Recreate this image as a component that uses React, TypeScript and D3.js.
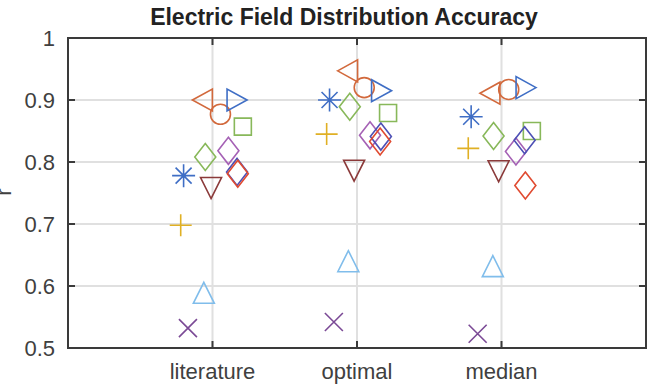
import React from "react";
import * as d3 from "d3";

// categories along x (at positions 1, 2, 3 on a 0..4 axis)
const categories = ["literature", "optimal", "median"];
const yTicks = [0.5, 0.6, 0.7, 0.8, 0.9, 1];

// one entry per scattered series: marker, colour, values per category, x jitter
const seriesNames = [
  "s1", "s2", "s3", "s4", "s5", "s6", "s7",
  "s8", "s9", "s10", "s11", "s12", "s13",
];
const seriesSymbols = [
  "star", "tri-left", "circle", "tri-right", "square", "diamond", "diamond",
  "diamond", "diamond", "tri-down", "plus", "tri-up", "cross",
];
const seriesColors = [
  "#3f6ec5", "#d2693c", "#d2693c", "#3f6ec5", "#88b85a", "#88b85a", "#a561b5",
  "#4d50b5", "#e04a30", "#8b3a3a", "#e0b024", "#80bdeb", "#7b4a96",
];
const seriesValues = [
  [0.778, 0.9, 0.873],
  [0.9, 0.947, 0.911],
  [0.877, 0.92, 0.917],
  [0.9, 0.915, 0.92],
  [0.857, 0.879, 0.85],
  [0.808, 0.889, 0.842],
  [0.818, 0.843, 0.817],
  [0.784, 0.841, 0.835],
  [0.781, 0.833, 0.762],
  [0.758, 0.786, 0.785],
  [0.698, 0.845, 0.822],
  [0.589, 0.64, 0.632],
  [0.532, 0.542, 0.523],
];
const seriesJitter = [
  [-0.2, -0.19, -0.21],
  [-0.07, -0.065, -0.08],
  [0.055, 0.05, 0.05],
  [0.17, 0.17, 0.17],
  [0.21, 0.215, 0.21],
  [-0.05, -0.05, -0.055],
  [0.11, 0.09, 0.1],
  [0.17, 0.165, 0.16],
  [0.175, 0.16, 0.165],
  [-0.01, -0.02, -0.02],
  [-0.22, -0.21, -0.23],
  [-0.06, -0.06, -0.06],
  [-0.17, -0.16, -0.165],
];

const W = 647;
const H = 390;
const margin = { top: 38, right: 1, bottom: 42, left: 68 };

// marker outlines centred on 0,0
function markerPath(kind: string): string {
  switch (kind) {
    case "circle":
      return d3.arc()({ innerRadius: 0, outerRadius: 10, startAngle: 0, endAngle: 2 * Math.PI }) as string;
    case "square":
      return "M-8.5,-8.5H8.5V8.5H-8.5Z";
    case "diamond":
      return "M0,-13.5L10.5,0L0,13.5L-10.5,0Z";
    case "tri-up":
      return "M0,-10.5L10.5,10.5L-10.5,10.5Z";
    case "tri-down":
      return "M0,10.5L10.5,-10.5L-10.5,-10.5Z";
    case "tri-left":
      return "M-10,0L10,-11L10,11Z";
    case "tri-right":
      return "M10,0L-10,-11L-10,11Z";
    case "plus":
      return "M-11,0H11M0,-11V11";
    case "cross":
      return "M-9,-9L9,9M-9,9L9,-9";
    case "star":
      return "M-11.5,0H11.5M0,-11.5V11.5M-8,-8L8,8M-8,8L8,-8";
    default:
      return "";
  }
}

export default function App() {
  const x = d3.scaleLinear().domain([0, 4]).range([margin.left, W - margin.right]);
  const y = d3.scaleLinear().domain([0.5, 1]).range([H - margin.bottom, margin.top]);
  const axisColor = "#3a3a3a";
  const font = "'Liberation Sans', Arial, Helvetica, sans-serif";
  const [x0, x1] = x.range();
  const [yb, yt] = y.range();

  return (
    <svg
      width={W}
      height={H}
      style={{ position: "absolute", left: 0, top: 0, background: "#fff" }}
      fontFamily={font}
    >
      {/* grid */}
      <g stroke="#e0e0e0" strokeWidth={2}>
        {yTicks.slice(1, -1).map((t) => (
          <line key={t} x1={x0} x2={x1} y1={y(t)} y2={y(t)} />
        ))}
        {categories.map((c, i) => (
          <line key={c} x1={x(i + 1)} x2={x(i + 1)} y1={yt} y2={yb} />
        ))}
      </g>

      {/* markers */}
      <g fill="none" strokeWidth={1.6} strokeLinejoin="miter">
        {seriesNames.map((name, s) =>
          seriesValues[s].map((v, i) => (
            <path
              key={name + i}
              d={markerPath(seriesSymbols[s])}
              stroke={seriesColors[s]}
              transform={`translate(${x(i + 1 + seriesJitter[s][i])},${y(v)})`}
            />
          ))
        )}
      </g>

      {/* box and ticks */}
      <g stroke={axisColor} strokeWidth={2} fill="none">
        <rect x={x0} y={yt} width={x1 - x0} height={yb - yt} />
        {yTicks.map((t) => (
          <g key={t}>
            <line x1={x0} x2={x0 + 7} y1={y(t)} y2={y(t)} />
            <line x1={x1 - 7} x2={x1} y1={y(t)} y2={y(t)} />
          </g>
        ))}
        {categories.map((c, i) => (
          <g key={c}>
            <line x1={x(i + 1)} x2={x(i + 1)} y1={yb} y2={yb - 7} />
            <line x1={x(i + 1)} x2={x(i + 1)} y1={yt} y2={yt + 7} />
          </g>
        ))}
      </g>

      {/* tick labels */}
      <g fill="#404040" fontSize={22}>
        {yTicks.map((t) => (
          <text key={t} x={x0 - 13} y={y(t)} dy="0.35em" textAnchor="end">
            {d3.format("~g")(t)}
          </text>
        ))}
        {categories.map((c, i) => (
          <text key={c} x={x(i + 1)} y={379} textAnchor="middle">
            {c}
          </text>
        ))}
      </g>

      <text
        transform={`translate(11,192) rotate(-90)`}
        textAnchor="middle"
        fontSize={22}
        fill="#404040"
      >
        r
      </text>

      <text
        x={(x0 + x1) / 2 - 13}
        y={25}
        textAnchor="middle"
        fontSize={23}
        fontWeight="bold"
        fill="#222"
      >
        Electric Field Distribution Accuracy
      </text>
    </svg>
  );
}
